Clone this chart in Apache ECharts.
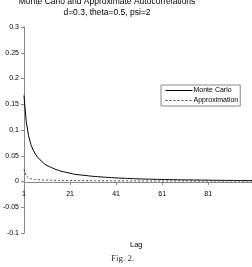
<!DOCTYPE html>
<html>
<head>
<meta charset="utf-8">
<script src="https://cdn.jsdelivr.net/npm/echarts@6/dist/echarts.min.js"></script>
<style>
  html, body { margin: 0; padding: 0; background: #fff; }
  #chart { width: 252px; height: 267px; }
</style>
</head>
<body>
<div id="chart"></div>
<script>
// lags 1..100
var lags = [];
for (var i = 1; i <= 100; i++) lags.push(String(i));

var monteCarlo = [
  0.167, 0.116, 0.089, 0.072, 0.061, 0.053, 0.047, 0.042, 0.038, 0.034,
  0.031, 0.029, 0.027, 0.025, 0.023, 0.022, 0.020, 0.019, 0.018, 0.017,
  0.016, 0.015, 0.014, 0.0135, 0.013, 0.0125, 0.012, 0.0115, 0.011, 0.0105,
  0.010, 0.0098, 0.0094, 0.0090, 0.0087, 0.0084, 0.0081, 0.0078, 0.0075, 0.0072,
  0.0070, 0.0068, 0.0066, 0.0063, 0.0061, 0.0060, 0.0058, 0.0056, 0.0054, 0.0052,
  0.0051, 0.0050, 0.0048, 0.0047, 0.0046, 0.0045, 0.0044, 0.0042, 0.0041, 0.0040,
  0.0039, 0.0038, 0.0038, 0.0037, 0.0036, 0.0035, 0.0034, 0.0034, 0.0033, 0.0032,
  0.0032, 0.0031, 0.0030, 0.0030, 0.0029, 0.0029, 0.0028, 0.0027, 0.0027, 0.0026,
  0.0026, 0.0025, 0.0025, 0.0024, 0.0024, 0.0023, 0.0023, 0.0022, 0.0022, 0.0022,
  0.0021, 0.0021, 0.0020, 0.0020, 0.0020, 0.0019, 0.0019, 0.0018, 0.0018, 0.0018
];

var approximation = [
  0.024, 0.011, 0.0072, 0.0055, 0.0046, 0.0040, 0.0036, 0.0033, 0.0031, 0.0029,
  0.0027, 0.0026, 0.0025, 0.0024, 0.0023, 0.0022, 0.0021, 0.0021, 0.0020, 0.0020,
  0.0019, 0.0019, 0.0018, 0.0018, 0.0017, 0.0017, 0.0017, 0.0016, 0.0016, 0.0016,
  0.0015, 0.0015, 0.0015, 0.0015, 0.0014, 0.0014, 0.0014, 0.0014, 0.0013, 0.0013,
  0.0013, 0.0013, 0.0013, 0.0013, 0.0012, 0.0012, 0.0012, 0.0012, 0.0012, 0.0012,
  0.0012, 0.0011, 0.0011, 0.0011, 0.0011, 0.0011, 0.0011, 0.0011, 0.0011, 0.0011,
  0.0011, 0.0010, 0.0010, 0.0010, 0.0010, 0.0010, 0.0010, 0.0010, 0.0010, 0.0010,
  0.0010, 0.0010, 0.0010, 0.0010, 0.0009, 0.0009, 0.0009, 0.0009, 0.0009, 0.0009,
  0.0009, 0.0009, 0.0009, 0.0009, 0.0009, 0.0009, 0.0009, 0.0009, 0.0009, 0.0009,
  0.0008, 0.0008, 0.0008, 0.0008, 0.0008, 0.0008, 0.0008, 0.0008, 0.0008, 0.0008
];

var chart = echarts.init(document.getElementById('chart'));
var font = 'Liberation Sans, Arial, sans-serif';

chart.setOption({
  animation: false,
  backgroundColor: '#fff',
  title: {
    text: 'Monte Carlo and Approximate Autocorrelations',
    subtext: 'd=0.3, theta=0.5, psi=2',
    left: 107, top: -3, textAlign: 'center',
    itemGap: 2, padding: 0,
    textStyle: { fontFamily: font, fontSize: 8.5, fontWeight: 'normal', color: '#000' },
    subtextStyle: { fontFamily: font, fontSize: 8.5, color: '#000' }
  },
  legend: {
    orient: 'vertical',
    left: 161, top: 85,
    padding: [2, 2, 2, 4],
    itemGap: 3,
    itemWidth: 27, itemHeight: 6,
    borderColor: '#888', borderWidth: 1,
    itemStyle: { opacity: 0 },
    lineStyle: { width: 1 },
    textStyle: { fontFamily: font, fontSize: 7, color: '#000', padding: [0, 0, 0, -4] },
    data: ['Monte Carlo', 'Approximation']
  },
  grid: { left: 17, right: 0, top: 27, bottom: 34, containLabel: false },
  xAxis: {
    type: 'category',
    data: lags,
    boundaryGap: false,
    position: 'bottom',
    offset: -51,
    axisLine: { onZero: false, lineStyle: { color: '#888', width: 1 } },
    axisTick: { show: true, interval: 19, length: 3, lineStyle: { color: '#888' } },
    axisLabel: { interval: 19, fontFamily: font, fontSize: 7, color: '#000', margin: 9 },
    splitLine: { show: false }
  },
  yAxis: {
    type: 'value',
    min: -0.1, max: 0.3, interval: 0.05,
    axisLine: { show: true, lineStyle: { color: '#888', width: 1 } },
    axisTick: { show: true, length: 3, lineStyle: { color: '#888' } },
    axisLabel: { fontFamily: font, fontSize: 7, color: '#000', margin: 5,
      formatter: function (v) { return String(Math.round(v * 100) / 100); } },
    splitLine: { show: false }
  },
  graphic: [
    { type: 'text', left: 130, top: 241,
      style: { text: 'Lag', fontFamily: font, fontSize: 7.5, fill: '#000' } },
    { type: 'text', left: 111, top: 254,
      style: { text: 'Fig. 2.', fontFamily: 'Liberation Serif, serif', fontSize: 9, fill: '#333' } }
  ],
  series: [
    {
      name: 'Monte Carlo', type: 'line', data: monteCarlo,
      showSymbol: false, symbol: 'none',
      lineStyle: { color: '#000', width: 1 },
      itemStyle: { color: '#000' }
    },
    {
      name: 'Approximation', type: 'line', data: approximation,
      showSymbol: false, symbol: 'none',
      lineStyle: { color: '#444', width: 1, type: [2, 2] },
      itemStyle: { color: '#444' }
    }
  ]
});
</script>
</body>
</html>
